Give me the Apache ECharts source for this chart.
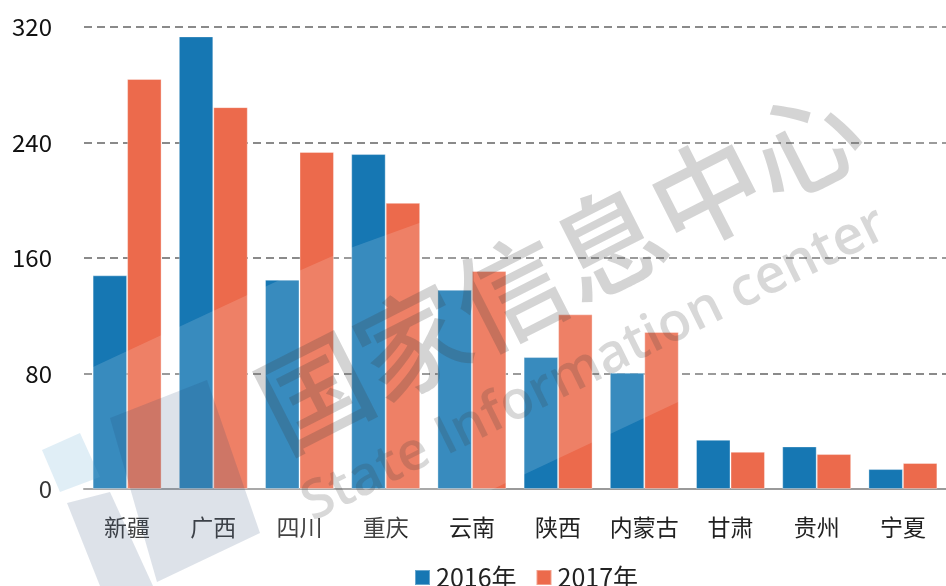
<!DOCTYPE html>
<html>
<head>
<meta charset="utf-8">
<script src="https://cdn.jsdelivr.net/npm/echarts@6/dist/echarts.min.js"></script>
<style>
  html, body { margin: 0; padding: 0; background: #fff; }
  #chart { width: 946px; height: 586px; }
</style>
</head>
<body>
<div id="chart"></div>
<script>
// Provinces along the category axis
const provinces = ['新疆', '广西', '四川', '重庆', '云南', '陕西', '内蒙古', '甘肃', '贵州', '宁夏'];
// Yearly values per province
const values2016 = [148, 313.5, 145, 232, 138, 91.4, 80.6, 34.1, 29.5, 13.8];
const values2017 = [284, 264.5, 233.5, 198.2, 151, 121, 108.8, 25.8, 24.2, 18];
const seriesNames = ['2016年', '2017年'];
const yTicks = { min: 0, max: 320, interval: 80 };

const FONT = '"Noto Sans CJK SC", "Noto Sans", sans-serif';
const BLUE = '#1677b3';
const ORANGE = '#ec6a4c';

const chart = echarts.init(document.getElementById('chart'), null, { renderer: 'canvas' });

chart.setOption({
  backgroundColor: '#ffffff',
  animation: false,
  color: [BLUE, ORANGE],
  // plot area runs slightly past the right edge of the canvas
  grid: { left: 84, top: 27, width: 867, height: 462, containLabel: false },
  legend: {
    top: 560,
    left: 409,
    itemWidth: 15,
    itemHeight: 15,
    itemGap: 19,
    icon: 'rect',
    textStyle: { fontFamily: FONT, fontSize: 25, color: '#222', padding: [0, 0, 0, 1] },
    data: seriesNames
  },
  xAxis: {
    type: 'category',
    data: provinces,
    axisLine: { lineStyle: { color: '#9a9a9a', width: 2 } },
    axisTick: { length: 7, lineStyle: { color: '#9a9a9a', width: 2 } },
    axisLabel: { interval: 0, fontFamily: FONT, fontSize: 23, color: '#222', margin: 27 }
  },
  yAxis: {
    type: 'value',
    min: yTicks.min,
    max: yTicks.max,
    interval: yTicks.interval,
    axisLine: { show: false },
    axisTick: { show: false },
    axisLabel: { fontFamily: FONT, fontSize: 24, color: '#111', margin: 32 },
    splitLine: { lineStyle: { color: '#8a8a8a', width: 2, type: [8, 5] } }
  },
  series: [
    {
      name: seriesNames[0],
      type: 'bar',
      data: values2016,
      barGap: '0%',
      barCategoryGap: '20%',
      itemStyle: { color: BLUE, borderColor: 'rgba(255,255,255,0.35)', borderWidth: 1 }
    },
    {
      name: seriesNames[1],
      type: 'bar',
      data: values2017,
      barGap: '0%',
      barCategoryGap: '20%',
      itemStyle: { color: ORANGE, borderColor: 'rgba(255,255,255,0.35)', borderWidth: 1 }
    }
  ],
  graphic: [
    // pale diagonal band of the publisher mark
    {
      type: 'polygon', z: 100, silent: true,
      shape: { points: [[0, 410], [93, 367], [301, 270], [353, 247], [422, 222], [946, -20], [946, 276], [0, 721]] },
      style: { fill: 'rgba(255,255,255,0.15)' }
    },
    // logo blocks in the lower-left corner
    {
      type: 'polygon', z: 101, silent: true,
      shape: { points: [[42, 450], [80, 433], [100, 477], [60, 492]] },
      style: { fill: 'rgba(100,170,210,0.2)' }
    },
    {
      type: 'polygon', z: 101, silent: true,
      shape: { points: [[67, 503], [110, 492], [153, 586], [100, 586]] },
      style: { fill: 'rgba(30,60,110,0.15)' }
    },
    {
      type: 'polygon', z: 101, silent: true,
      shape: { points: [[110, 418], [207, 380], [260, 533], [157, 582]] },
      style: { fill: 'rgba(30,60,110,0.15)' }
    },
    // diagonal publisher mark
    {
      type: 'text', z: 102, silent: true,
      x: 290, y: 466, rotation: 0.47,
      originX: 0, originY: 0,
      style: {
        text: '国家信息中心',
        font: '500 110px "Noto Sans CJK SC", sans-serif',
        fill: 'rgba(60,60,60,0.22)',
        textVerticalAlign: 'bottom'
      }
    },
    {
      type: 'text', z: 102, silent: true,
      x: 318, y: 532, rotation: 0.46,
      originX: 0, originY: 0,
      style: {
        text: 'State Information center',
        font: '600 54px "Open Sans", sans-serif',
        fill: 'rgba(60,60,60,0.2)',
        textVerticalAlign: 'bottom'
      }
    }
  ]
});
</script>
</body>
</html>
